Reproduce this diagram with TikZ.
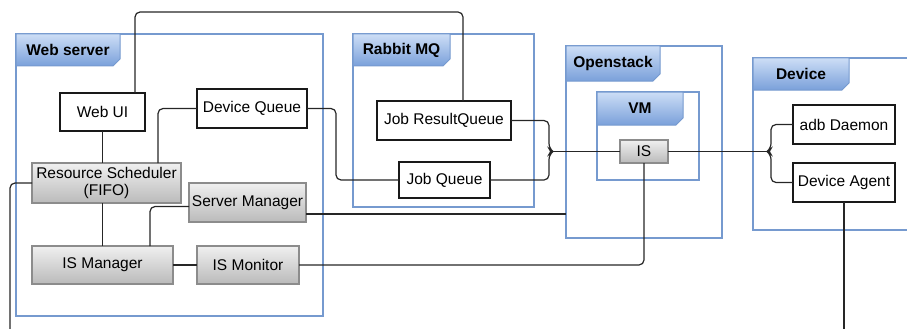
\documentclass[tikz,border=0pt]{standalone}
\usepackage{fontspec}
\setmainfont{Liberation Sans}
\usepackage{tikz}
\usetikzlibrary{calc}

\definecolor{pkgline}{RGB}{118,154,207}
\definecolor{tabtop}{RGB}{205,222,246}
\definecolor{tabbot}{RGB}{122,160,218}

\tikzset{
  pkg/.style={draw=pkgline, line width=1.6pt, inner sep=0pt, outer sep=0pt},
  pkgtitle/.style={inner sep=0pt, outer sep=0pt, font=\bfseries\fontsize{15.5}{17}\selectfont},
  box/.style={draw=black!90, line width=1.2pt, fill=white, inner sep=0pt, outer sep=0pt, align=center, font=\fontsize{15.5}{17}\selectfont},
  greybox/.style={box, draw=black!45, top color=black!6, bottom color=black!27},
  wire/.style={line width=1.2pt, draw=black!85, rounded corners=5pt},
}

\newcommand{\pkgtab}[4]{%
  \path (#1.north west) node[pkgtitle, anchor=north west, minimum width=#2pt, minimum height=#3pt] (#1-tab) {};
  \shade[draw=pkgline, line width=1pt, top color=tabtop, bottom color=tabbot]
    (#1-tab.north west) -- (#1-tab.north east) -- ([yshift=7pt]#1-tab.south east)
    -- ([xshift=-7pt]#1-tab.south east) -- (#1-tab.south west) -- cycle;
  \node[pkgtitle] at (#1-tab) {#4};
}

\begin{document}
\begin{tikzpicture}[x=1pt,y=-1pt]
  \useasboundingbox (0,0) rectangle (907,329);
  % containers
  \node[pkg, minimum width=307pt, minimum height=282pt] (websrv) at (169.5,175) {};
  \node[pkg, minimum width=181pt, minimum height=173pt] (rabbit) at (443.5,120.5) {};
  \node[pkg, minimum width=156pt, minimum height=192pt] (openstack) at (644,142) {};
  \node[pkg, minimum width=102pt, minimum height=88pt] (vm) at (648,136) {};
  \node[pkg, minimum width=170pt, minimum height=172pt] (device) at (838,144) {};
  \pkgtab{websrv}{104}{32}{Web server}
  \pkgtab{rabbit}{97}{32}{Rabbit MQ}
  \pkgtab{openstack}{94}{35}{Openstack}
  \pkgtab{vm}{86}{33}{VM}
  \pkgtab{device}{96}{32}{Device}

  \node[box, minimum width=85pt, minimum height=38pt] (webui) at (102.5,112) {Web UI};
  \node[box, minimum width=110pt, minimum height=39pt] (devq) at (252,108.5) {Device Queue};
  \node[greybox, minimum width=149pt, minimum height=40pt] (rsched) at (106.5,183) {Resource Scheduler\\(FIFO)};
  \node[greybox, minimum width=117pt, minimum height=39pt] (srvmgr) at (247.5,202.5) {Server Manager};
  \node[greybox, minimum width=141pt, minimum height=38pt] (ismgr) at (102.5,265) {IS Manager};
  \node[greybox, minimum width=102pt, minimum height=38pt] (ismon) at (248,265) {IS Monitor};
  \node[box, minimum width=134pt, minimum height=39pt] (jrq) at (444,120.5) {Job ResultQueue};
  \node[box, minimum width=91pt, minimum height=36pt] (jq) at (444.5,180) {Job Queue};
  \node[greybox, minimum width=48pt, minimum height=23pt] (is) at (644,151.5) {IS};
  \node[box, minimum width=102pt, minimum height=39pt] (adb) at (844,124.5) {adb Daemon};
  \node[box, minimum width=102pt, minimum height=39pt] (agent) at (844,182.5) {Device Agent};

  % wires
  \coordinate (mq) at (553,151.5);
  \coordinate (dv) at (767,151.5);
  \coordinate (smout) at ([yshift=-11.5pt]srvmgr.east);
  \draw[wire] ([xshift=-10pt]webui.north east) -- ++(0,-81) -| ([xshift=19pt]jrq.north);
  \draw[wire] (webui.south) -- (webui.south |- rsched.north);
  \draw[wire] (devq.west) -| ([xshift=51.5pt]rsched.north);
  \draw[wire] (devq.east) -- ++(29,0) |- (jq.west);
  \draw[wire] (rsched.west) -| ++(-22,160);
  \draw[wire] (ismgr.north |- rsched.south) -- (ismgr.north);
  \draw[wire] ([yshift=-4pt]srvmgr.west) -| ([xshift=47.5pt]ismgr.north);
  \draw[wire] (smout) -- (smout -| openstack.west);
  \draw[wire] (ismgr.east) -- (ismon.west);
  \draw[wire] (ismon.east) -| (is.south);
  \draw[wire] (jrq.east) -| ([shift={(-4pt,3pt)}]mq) -- (mq) -- ([shift={(-4pt,-3pt)}]mq) |- (jq.east);
  \draw[wire] (mq) -- (is.west);
  \draw[wire] (is.east) -- (dv);
  \draw[wire] (adb.west) -| ([shift={(4pt,3pt)}]dv) -- (dv) -- ([shift={(4pt,-3pt)}]dv) |- (agent.west);
  \draw[wire] (agent.south) -- ++(0,140);
\end{tikzpicture}
\end{document}
